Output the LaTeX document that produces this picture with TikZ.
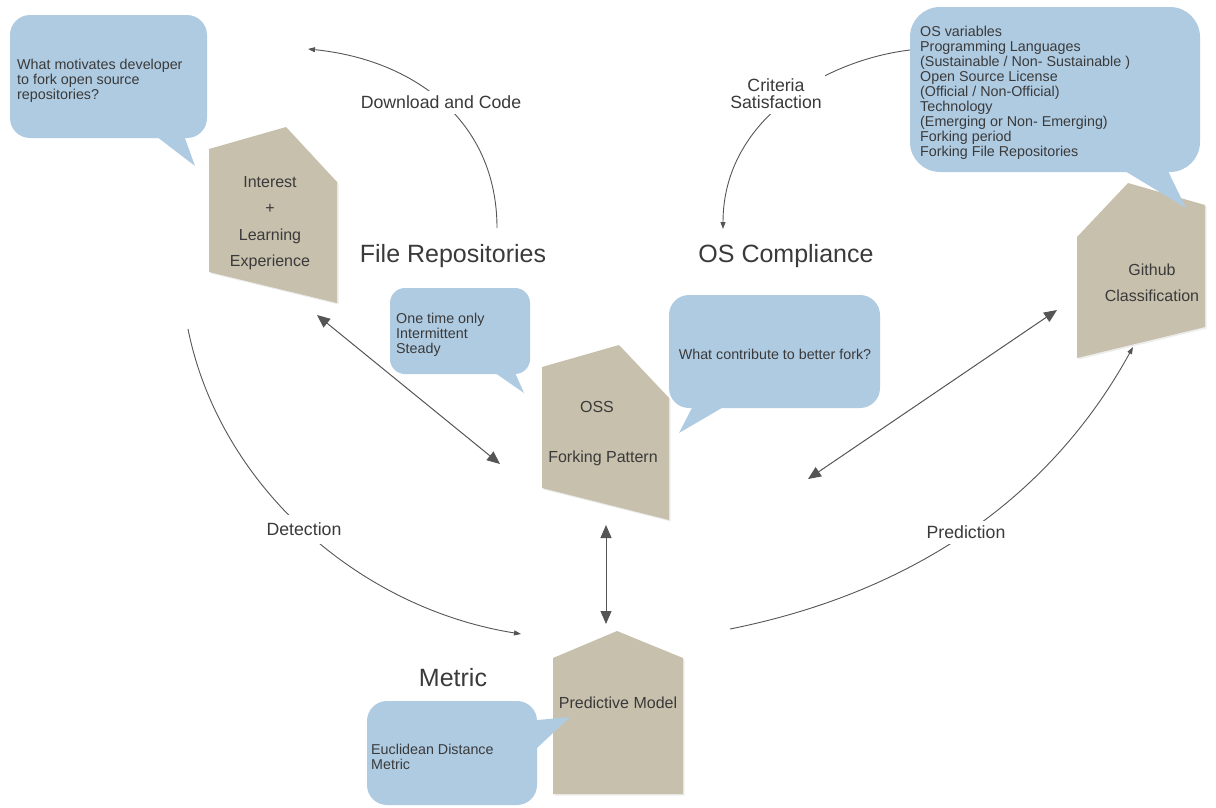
\documentclass[tikz,border=0pt]{standalone}
\usepackage{fontspec}
\setmainfont{Liberation Sans}
\usetikzlibrary{arrows.meta,shadows}

\definecolor{bubble}{HTML}{AFCBE2}
\definecolor{stone}{HTML}{C7C0AD}
\definecolor{ink}{HTML}{3A3A3A}
\definecolor{wire}{HTML}{555555}

\begin{document}
\begin{tikzpicture}[x=1pt,y=-1pt,
  stoneshape/.style={fill=stone,
    drop shadow={shadow xshift=1.5pt,shadow yshift=-1.5pt,opacity=0.15}},
  callout/.style={fill=bubble},
  note/.style={inner sep=0pt, text=ink, align=left, anchor=west,
    font=\fontsize{14.3}{15}\selectfont},
  body/.style={inner sep=0pt, text=ink, align=center,
    font=\fontsize{16}{26.4}\selectfont},
  heading/.style={inner sep=0pt, text=ink, font=\fontsize{25}{30}\selectfont},
  flowlabel/.style={text=ink, fill=white, inner xsep=3pt, inner ysep=5pt,
    align=center, font=\fontsize{17.7}{17}\selectfont},
  flow/.style={draw=wire, line width=0.9pt, -{Triangle[length=7pt,width=5pt]}},
  link/.style={draw=wire, line width=1pt,
    {Triangle[length=13pt,width=11pt]}-{Triangle[length=13pt,width=11pt]}},
]
\useasboundingbox (0,0) rectangle (1216,807);

% ---- stone-coloured concept shapes ----
\path[stoneshape] (209,149) -- (286,127) -- (337,182) -- (337,303) -- (209,272) -- cycle;
\path[stoneshape] (542,367) -- (619,345) -- (669,398) -- (669,520) -- (542,488) -- cycle;
\path[stoneshape] (1077,237) -- (1128,183) -- (1205,205) -- (1205,327) -- (1077,358) -- cycle;
\path[stoneshape] (553,658) -- (617,631) -- (683,658) -- (683,794) -- (553,794) -- cycle;

% ---- speech bubbles ----
\fill[callout, rounded corners=20pt] (10,15) rectangle (207,138);
\fill[callout] (148,130) -- (182,130) -- (195,166) -- cycle;

\fill[callout, rounded corners=30pt] (910,7) rectangle (1200,172);
\fill[callout] (1115,165) -- (1165,165) -- (1186,208) -- cycle;

\fill[callout, rounded corners=15pt] (390,288) rectangle (530,374);
\fill[callout] (488,368) -- (513,368) -- (524,393) -- cycle;

\fill[callout, rounded corners=20pt] (669,295) rectangle (880,408);
\fill[callout] (695,402) -- (732,402) -- (679,433) -- cycle;

\fill[callout, rounded corners=20pt] (367,701) rectangle (537,805);
\fill[callout] (530,720.7) -- (570,717) -- (530,754.6) -- cycle;

% ---- bubble texts ----
\node[note] (q-motive) at (17,80.5) {What motivates developer\\to fork open source\\repositories?};
\node[note] (q-pattern) at (396,334.5) {One time only\\Intermittent\\Steady};
\node[note, anchor=center] (q-better) at (775,354) {What contribute to better fork?};
\node[note] (q-vars) at (920,93) {OS variables\\Programming Languages\\(Sustainable / Non- Sustainable )\\Open Source License\\(Official / Non-Official)\\Technology\\(Emerging or Non- Emerging)\\Forking period\\Forking File Repositories};
\node[note] (q-metric) at (371,757) {Euclidean Distance\\Metric};

% ---- shape texts ----
\node[body] (interest) at (270,223) {Interest\\+\\Learning\\Experience};
\node[body] (oss) at (597,407) {OSS};
\node[body] (pattern) at (603,458) {Forking Pattern};
\node[body] (github) at (1152,283) {Github\\Classification};
\node[body] (model) at (618,703) {Predictive Model};

% ---- connector end points ----
\coordinate (dl-from) at (497,228);
\coordinate (dl-to) at (308,49);
\coordinate (cs-from) at (910,50);
\coordinate (cs-to) at (723,229);
\coordinate (dt-from) at (188,329);
\coordinate (dt-to) at (521,634);
\coordinate (pr-from) at (730,629);
\coordinate (pr-to) at (1133,347);
\coordinate (ie-end) at (317,315);
\coordinate (oss-nw) at (500,464);
\coordinate (gh-end) at (1057,310);
\coordinate (oss-ne) at (808,479);
\coordinate (oss-s) at (606,525);
\coordinate (pm-n) at (606,624);

% ---- curved flows ----
\draw[flow] (dl-from) .. controls (497,120) and (413,59.5) .. (dl-to);
\draw[flow] (cs-from) .. controls (826,60) and (723,119) .. (cs-to);
\draw[flow] (dt-from) .. controls (218.7,482.5) and (355.3,607.5) .. (dt-to);
\draw[flow] (pr-from) .. controls (907.5,593.5) and (1047.5,502.5) .. (pr-to);

% ---- two-way links ----
\draw[link] (ie-end) -- (oss-nw);
\draw[link] (gh-end) -- (oss-ne);
\draw[link] (oss-s) -- (pm-n);

% ---- flow labels ----
\node[flowlabel] (l-download) at (441,102) {Download and Code};
\node[flowlabel] (l-criteria) at (776,93.5) {Criteria\\Satisfaction};
\node[flowlabel, inner xsep=6pt, inner ysep=8pt] (l-detect) at (304,529.5) {Detection};
\node[flowlabel] (l-predict) at (966,532.5) {Prediction};

% ---- headings ----
\node[heading] (h-files) at (453,256) {File Repositories};
\node[heading] (h-os) at (786,256) {OS Compliance};
\node[heading] (h-metric) at (453,678) {Metric};
\end{tikzpicture}
\end{document}
